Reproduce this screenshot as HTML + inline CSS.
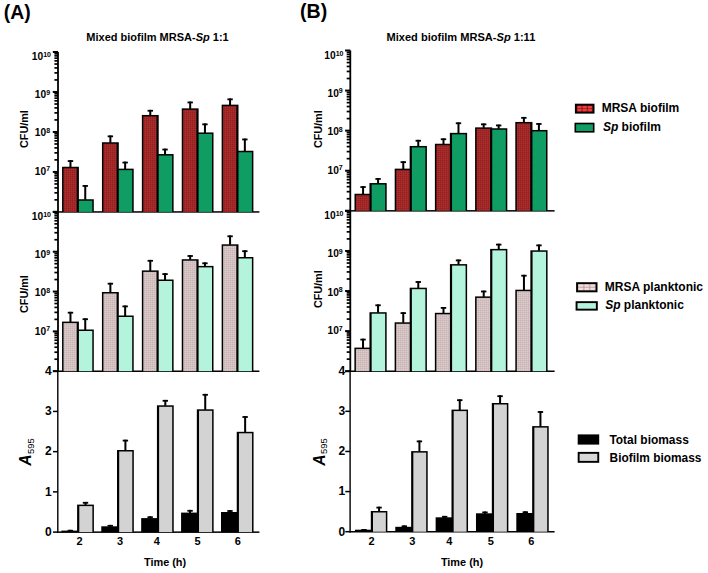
<!DOCTYPE html>
<html><head><meta charset="utf-8"><style>
html,body{margin:0;padding:0;background:#fff;}
svg{display:block;}
text{font-family:"Liberation Sans", sans-serif;fill:#000;}
</style></head><body>
<svg width="708" height="573" viewBox="0 0 708 573">
<rect width="708" height="573" fill="#fff"/>
<defs>
<pattern id="pRed" width="2" height="2" patternUnits="userSpaceOnUse"><rect width="2" height="2" fill="#b42c2c"/><rect width="2" height="0.5" fill="#862020"/><rect width="0.5" height="2" fill="#862020"/></pattern>
<pattern id="pPink" width="2" height="2" patternUnits="userSpaceOnUse"><rect width="2" height="2" fill="#dccdcd"/><rect width="2" height="0.5" fill="#c6afaf"/><rect width="0.5" height="2" fill="#c6afaf"/></pattern>
</defs>
<rect x="57.10" y="52.00" width="1.8" height="319.90" fill="#000"/>
<rect x="57.10" y="371.20" width="1.4" height="161.60" fill="#000"/>
<rect x="57.10" y="211.20" width="202.30" height="1.5" fill="#000"/>
<rect x="57.10" y="370.50" width="202.30" height="1.5" fill="#000"/>
<rect x="57.10" y="531.40" width="202.30" height="1.5" fill="#000"/>
<rect x="52.80" y="210.90" width="5.2" height="2" fill="#000"/>
<rect x="54.40" y="199.02" width="3.6" height="1.7" fill="#000"/>
<rect x="54.40" y="191.98" width="3.6" height="1.7" fill="#000"/>
<rect x="54.40" y="186.98" width="3.6" height="1.7" fill="#000"/>
<rect x="54.40" y="183.11" width="3.6" height="1.7" fill="#000"/>
<rect x="54.40" y="179.94" width="3.6" height="1.7" fill="#000"/>
<rect x="54.40" y="177.27" width="3.6" height="1.7" fill="#000"/>
<rect x="54.40" y="174.95" width="3.6" height="1.7" fill="#000"/>
<rect x="54.40" y="172.90" width="3.6" height="1.7" fill="#000"/>
<rect x="52.80" y="170.93" width="5.2" height="2" fill="#000"/>
<rect x="54.40" y="159.04" width="3.6" height="1.7" fill="#000"/>
<rect x="54.40" y="152.00" width="3.6" height="1.7" fill="#000"/>
<rect x="54.40" y="147.01" width="3.6" height="1.7" fill="#000"/>
<rect x="54.40" y="143.13" width="3.6" height="1.7" fill="#000"/>
<rect x="54.40" y="139.97" width="3.6" height="1.7" fill="#000"/>
<rect x="54.40" y="137.29" width="3.6" height="1.7" fill="#000"/>
<rect x="54.40" y="134.97" width="3.6" height="1.7" fill="#000"/>
<rect x="54.40" y="132.93" width="3.6" height="1.7" fill="#000"/>
<rect x="52.80" y="130.95" width="5.2" height="2" fill="#000"/>
<rect x="54.40" y="119.07" width="3.6" height="1.7" fill="#000"/>
<rect x="54.40" y="112.03" width="3.6" height="1.7" fill="#000"/>
<rect x="54.40" y="107.03" width="3.6" height="1.7" fill="#000"/>
<rect x="54.40" y="103.16" width="3.6" height="1.7" fill="#000"/>
<rect x="54.40" y="99.99" width="3.6" height="1.7" fill="#000"/>
<rect x="54.40" y="97.32" width="3.6" height="1.7" fill="#000"/>
<rect x="54.40" y="95.00" width="3.6" height="1.7" fill="#000"/>
<rect x="54.40" y="92.95" width="3.6" height="1.7" fill="#000"/>
<rect x="52.80" y="90.97" width="5.2" height="2" fill="#000"/>
<rect x="54.40" y="79.09" width="3.6" height="1.7" fill="#000"/>
<rect x="54.40" y="72.05" width="3.6" height="1.7" fill="#000"/>
<rect x="54.40" y="67.06" width="3.6" height="1.7" fill="#000"/>
<rect x="54.40" y="63.18" width="3.6" height="1.7" fill="#000"/>
<rect x="54.40" y="60.02" width="3.6" height="1.7" fill="#000"/>
<rect x="54.40" y="57.34" width="3.6" height="1.7" fill="#000"/>
<rect x="54.40" y="55.02" width="3.6" height="1.7" fill="#000"/>
<rect x="54.40" y="52.98" width="3.6" height="1.7" fill="#000"/>
<rect x="52.80" y="51.00" width="5.2" height="2" fill="#000"/>
<rect x="52.80" y="370.20" width="5.2" height="2" fill="#000"/>
<rect x="54.40" y="358.36" width="3.6" height="1.7" fill="#000"/>
<rect x="54.40" y="351.35" width="3.6" height="1.7" fill="#000"/>
<rect x="54.40" y="346.37" width="3.6" height="1.7" fill="#000"/>
<rect x="54.40" y="342.51" width="3.6" height="1.7" fill="#000"/>
<rect x="54.40" y="339.36" width="3.6" height="1.7" fill="#000"/>
<rect x="54.40" y="336.69" width="3.6" height="1.7" fill="#000"/>
<rect x="54.40" y="334.38" width="3.6" height="1.7" fill="#000"/>
<rect x="54.40" y="332.35" width="3.6" height="1.7" fill="#000"/>
<rect x="52.80" y="330.38" width="5.2" height="2" fill="#000"/>
<rect x="54.40" y="318.54" width="3.6" height="1.7" fill="#000"/>
<rect x="54.40" y="311.52" width="3.6" height="1.7" fill="#000"/>
<rect x="54.40" y="306.55" width="3.6" height="1.7" fill="#000"/>
<rect x="54.40" y="302.69" width="3.6" height="1.7" fill="#000"/>
<rect x="54.40" y="299.54" width="3.6" height="1.7" fill="#000"/>
<rect x="54.40" y="296.87" width="3.6" height="1.7" fill="#000"/>
<rect x="54.40" y="294.56" width="3.6" height="1.7" fill="#000"/>
<rect x="54.40" y="292.52" width="3.6" height="1.7" fill="#000"/>
<rect x="52.80" y="290.55" width="5.2" height="2" fill="#000"/>
<rect x="54.40" y="278.71" width="3.6" height="1.7" fill="#000"/>
<rect x="54.40" y="271.70" width="3.6" height="1.7" fill="#000"/>
<rect x="54.40" y="266.72" width="3.6" height="1.7" fill="#000"/>
<rect x="54.40" y="262.86" width="3.6" height="1.7" fill="#000"/>
<rect x="54.40" y="259.71" width="3.6" height="1.7" fill="#000"/>
<rect x="54.40" y="257.04" width="3.6" height="1.7" fill="#000"/>
<rect x="54.40" y="254.73" width="3.6" height="1.7" fill="#000"/>
<rect x="54.40" y="252.70" width="3.6" height="1.7" fill="#000"/>
<rect x="52.80" y="250.72" width="5.2" height="2" fill="#000"/>
<rect x="54.40" y="238.89" width="3.6" height="1.7" fill="#000"/>
<rect x="54.40" y="231.87" width="3.6" height="1.7" fill="#000"/>
<rect x="54.40" y="226.90" width="3.6" height="1.7" fill="#000"/>
<rect x="54.40" y="223.04" width="3.6" height="1.7" fill="#000"/>
<rect x="54.40" y="219.89" width="3.6" height="1.7" fill="#000"/>
<rect x="54.40" y="217.22" width="3.6" height="1.7" fill="#000"/>
<rect x="54.40" y="214.91" width="3.6" height="1.7" fill="#000"/>
<rect x="54.40" y="212.87" width="3.6" height="1.7" fill="#000"/>
<rect x="52.80" y="210.90" width="5.2" height="2" fill="#000"/>
<rect x="53.00" y="531.35" width="5" height="1.5" fill="#000"/>
<rect x="53.00" y="491.12" width="5" height="1.5" fill="#000"/>
<rect x="53.00" y="450.90" width="5" height="1.5" fill="#000"/>
<rect x="53.00" y="410.68" width="5" height="1.5" fill="#000"/>
<rect x="53.00" y="370.45" width="5" height="1.5" fill="#000"/>
<text x="31.80" y="60.30" font-size="10.2" font-weight="bold">10<tspan font-size="7" dy="-3.5">10</tspan></text>
<text x="34.80" y="98.07" font-size="10.2" font-weight="bold">10<tspan font-size="7" dy="-3.5">9</tspan></text>
<text x="34.80" y="136.34" font-size="10.2" font-weight="bold">10<tspan font-size="7" dy="-3.5">8</tspan></text>
<text x="34.80" y="174.61" font-size="10.2" font-weight="bold">10<tspan font-size="7" dy="-3.5">7</tspan></text>
<text x="31.80" y="220.00" font-size="10.2" font-weight="bold">10<tspan font-size="7" dy="-3.5">10</tspan></text>
<text x="34.80" y="258.20" font-size="10.2" font-weight="bold">10<tspan font-size="7" dy="-3.5">9</tspan></text>
<text x="34.80" y="296.40" font-size="10.2" font-weight="bold">10<tspan font-size="7" dy="-3.5">8</tspan></text>
<text x="34.80" y="334.60" font-size="10.2" font-weight="bold">10<tspan font-size="7" dy="-3.5">7</tspan></text>
<text x="45.00" y="535.90" font-size="12" font-weight="bold">0</text>
<text x="45.00" y="495.68" font-size="12" font-weight="bold">1</text>
<text x="45.00" y="455.45" font-size="12" font-weight="bold">2</text>
<text x="45.00" y="415.23" font-size="12" font-weight="bold">3</text>
<text x="45.00" y="375.00" font-size="12" font-weight="bold">4</text>
<text transform="translate(28.00,148.00) rotate(-90)" font-size="10.8" font-weight="bold">CFU/ml</text>
<text transform="translate(28.00,313.00) rotate(-90)" font-size="10.8" font-weight="bold">CFU/ml</text>
<text transform="translate(31.40,465.80) rotate(-90)" font-size="15.6" font-weight="bold" font-style="italic">A</text>
<text transform="translate(33.80,453.90) rotate(-90)" font-size="9.2" font-weight="normal" textLength="15.8" lengthAdjust="spacingAndGlyphs">595</text>
<rect x="62.05" y="166.75" width="16.85" height="45.15" fill="#000"/>
<rect x="76.70" y="199.25" width="17.10" height="12.65" fill="#000"/>
<rect x="63.55" y="168.25" width="13.15" height="43.65" fill="url(#pRed)"/>
<rect x="78.90" y="200.75" width="13.40" height="11.15" fill="#0f9d63"/>
<rect x="69.47" y="160.15" width="2" height="7.10" fill="#000"/>
<rect x="67.77" y="160.15" width="5.4" height="1.8" fill="#000"/>
<rect x="84.25" y="185.05" width="2" height="14.70" fill="#000"/>
<rect x="82.55" y="185.05" width="5.4" height="1.8" fill="#000"/>
<rect x="62.05" y="321.60" width="16.85" height="49.60" fill="#000"/>
<rect x="76.70" y="329.50" width="17.10" height="41.70" fill="#000"/>
<rect x="63.55" y="323.10" width="13.15" height="48.10" fill="url(#pPink)"/>
<rect x="78.90" y="331.00" width="13.40" height="40.20" fill="#b4f4dc"/>
<rect x="69.47" y="311.80" width="2" height="10.30" fill="#000"/>
<rect x="67.77" y="311.80" width="5.4" height="1.8" fill="#000"/>
<rect x="84.25" y="318.30" width="2" height="11.70" fill="#000"/>
<rect x="82.55" y="318.30" width="5.4" height="1.8" fill="#000"/>
<rect x="61.35" y="530.60" width="17.95" height="1.50" fill="#000"/>
<rect x="77.10" y="504.60" width="16.80" height="27.50" fill="#000"/>
<rect x="79.30" y="506.10" width="13.10" height="26.00" fill="#d3d3d3"/>
<rect x="69.33" y="529.80" width="2" height="1.30" fill="#000"/>
<rect x="67.62" y="529.80" width="5.4" height="1.8" fill="#000"/>
<rect x="84.50" y="501.90" width="2" height="3.20" fill="#000"/>
<rect x="82.80" y="501.90" width="5.4" height="1.8" fill="#000"/>
<text x="79.50" y="545.4" font-size="11" font-weight="bold" text-anchor="middle">2</text>
<rect x="101.95" y="142.25" width="16.85" height="69.65" fill="#000"/>
<rect x="116.60" y="168.65" width="17.10" height="43.25" fill="#000"/>
<rect x="103.45" y="143.75" width="13.15" height="68.15" fill="url(#pRed)"/>
<rect x="118.80" y="170.15" width="13.40" height="41.75" fill="#0f9d63"/>
<rect x="109.37" y="135.45" width="2" height="7.30" fill="#000"/>
<rect x="107.67" y="135.45" width="5.4" height="1.8" fill="#000"/>
<rect x="124.15" y="161.65" width="2" height="7.50" fill="#000"/>
<rect x="122.45" y="161.65" width="5.4" height="1.8" fill="#000"/>
<rect x="101.95" y="292.00" width="16.85" height="79.20" fill="#000"/>
<rect x="116.60" y="315.50" width="17.10" height="55.70" fill="#000"/>
<rect x="103.45" y="293.50" width="13.15" height="77.70" fill="url(#pPink)"/>
<rect x="118.80" y="317.00" width="13.40" height="54.20" fill="#b4f4dc"/>
<rect x="109.37" y="282.80" width="2" height="9.70" fill="#000"/>
<rect x="107.67" y="282.80" width="5.4" height="1.8" fill="#000"/>
<rect x="124.15" y="305.50" width="2" height="10.50" fill="#000"/>
<rect x="122.45" y="305.50" width="5.4" height="1.8" fill="#000"/>
<rect x="101.26" y="526.30" width="17.95" height="5.80" fill="#000"/>
<rect x="117.01" y="450.00" width="16.80" height="82.10" fill="#000"/>
<rect x="102.76" y="527.80" width="14.25" height="4.30" fill="#000"/>
<rect x="119.21" y="451.50" width="13.10" height="80.60" fill="#d3d3d3"/>
<rect x="109.23" y="524.90" width="2" height="1.90" fill="#000"/>
<rect x="107.53" y="524.90" width="5.4" height="1.8" fill="#000"/>
<rect x="124.41" y="439.70" width="2" height="10.80" fill="#000"/>
<rect x="122.71" y="439.70" width="5.4" height="1.8" fill="#000"/>
<text x="120.10" y="545.4" font-size="11" font-weight="bold" text-anchor="middle">3</text>
<rect x="141.85" y="114.95" width="16.85" height="96.95" fill="#000"/>
<rect x="156.50" y="154.05" width="17.10" height="57.85" fill="#000"/>
<rect x="143.35" y="116.45" width="13.15" height="95.45" fill="url(#pRed)"/>
<rect x="158.70" y="155.55" width="13.40" height="56.35" fill="#0f9d63"/>
<rect x="149.28" y="109.85" width="2" height="5.60" fill="#000"/>
<rect x="147.58" y="109.85" width="5.4" height="1.8" fill="#000"/>
<rect x="164.05" y="148.65" width="2" height="5.90" fill="#000"/>
<rect x="162.35" y="148.65" width="5.4" height="1.8" fill="#000"/>
<rect x="141.85" y="270.40" width="16.85" height="100.80" fill="#000"/>
<rect x="156.50" y="279.50" width="17.10" height="91.70" fill="#000"/>
<rect x="143.35" y="271.90" width="13.15" height="99.30" fill="url(#pPink)"/>
<rect x="158.70" y="281.00" width="13.40" height="90.20" fill="#b4f4dc"/>
<rect x="149.28" y="259.90" width="2" height="11.00" fill="#000"/>
<rect x="147.58" y="259.90" width="5.4" height="1.8" fill="#000"/>
<rect x="164.05" y="273.20" width="2" height="6.80" fill="#000"/>
<rect x="162.35" y="273.20" width="5.4" height="1.8" fill="#000"/>
<rect x="141.17" y="518.10" width="17.95" height="14.00" fill="#000"/>
<rect x="156.92" y="405.30" width="16.80" height="126.80" fill="#000"/>
<rect x="142.67" y="519.60" width="14.25" height="12.50" fill="#000"/>
<rect x="159.12" y="406.80" width="13.10" height="125.30" fill="#d3d3d3"/>
<rect x="149.14" y="516.30" width="2" height="2.30" fill="#000"/>
<rect x="147.44" y="516.30" width="5.4" height="1.8" fill="#000"/>
<rect x="164.32" y="399.90" width="2" height="5.90" fill="#000"/>
<rect x="162.62" y="399.90" width="5.4" height="1.8" fill="#000"/>
<text x="156.90" y="545.4" font-size="11" font-weight="bold" text-anchor="middle">4</text>
<rect x="181.75" y="108.35" width="16.85" height="103.55" fill="#000"/>
<rect x="196.40" y="132.45" width="17.10" height="79.45" fill="#000"/>
<rect x="183.25" y="109.85" width="13.15" height="102.05" fill="url(#pRed)"/>
<rect x="198.60" y="133.95" width="13.40" height="77.95" fill="#0f9d63"/>
<rect x="189.18" y="101.55" width="2" height="7.30" fill="#000"/>
<rect x="187.48" y="101.55" width="5.4" height="1.8" fill="#000"/>
<rect x="203.95" y="123.45" width="2" height="9.50" fill="#000"/>
<rect x="202.25" y="123.45" width="5.4" height="1.8" fill="#000"/>
<rect x="181.75" y="259.20" width="16.85" height="112.00" fill="#000"/>
<rect x="196.40" y="265.90" width="17.10" height="105.30" fill="#000"/>
<rect x="183.25" y="260.70" width="13.15" height="110.50" fill="url(#pPink)"/>
<rect x="198.60" y="267.40" width="13.40" height="103.80" fill="#b4f4dc"/>
<rect x="189.18" y="255.10" width="2" height="4.60" fill="#000"/>
<rect x="187.48" y="255.10" width="5.4" height="1.8" fill="#000"/>
<rect x="203.95" y="262.40" width="2" height="4.00" fill="#000"/>
<rect x="202.25" y="262.40" width="5.4" height="1.8" fill="#000"/>
<rect x="181.08" y="512.60" width="17.95" height="19.50" fill="#000"/>
<rect x="196.83" y="409.30" width="16.80" height="122.80" fill="#000"/>
<rect x="182.58" y="514.10" width="14.25" height="18.00" fill="#000"/>
<rect x="199.03" y="410.80" width="13.10" height="121.30" fill="#d3d3d3"/>
<rect x="189.06" y="509.90" width="2" height="3.20" fill="#000"/>
<rect x="187.36" y="509.90" width="5.4" height="1.8" fill="#000"/>
<rect x="204.23" y="393.90" width="2" height="15.90" fill="#000"/>
<rect x="202.53" y="393.90" width="5.4" height="1.8" fill="#000"/>
<text x="197.50" y="545.4" font-size="11" font-weight="bold" text-anchor="middle">5</text>
<rect x="221.65" y="104.65" width="16.85" height="107.25" fill="#000"/>
<rect x="236.30" y="150.75" width="17.10" height="61.15" fill="#000"/>
<rect x="223.15" y="106.15" width="13.15" height="105.75" fill="url(#pRed)"/>
<rect x="238.50" y="152.25" width="13.40" height="59.65" fill="#0f9d63"/>
<rect x="229.07" y="98.45" width="2" height="6.70" fill="#000"/>
<rect x="227.38" y="98.45" width="5.4" height="1.8" fill="#000"/>
<rect x="243.85" y="138.55" width="2" height="12.70" fill="#000"/>
<rect x="242.15" y="138.55" width="5.4" height="1.8" fill="#000"/>
<rect x="221.65" y="244.30" width="16.85" height="126.90" fill="#000"/>
<rect x="236.30" y="257.00" width="17.10" height="114.20" fill="#000"/>
<rect x="223.15" y="245.80" width="13.15" height="125.40" fill="url(#pPink)"/>
<rect x="238.50" y="258.50" width="13.40" height="112.70" fill="#b4f4dc"/>
<rect x="229.07" y="235.40" width="2" height="9.40" fill="#000"/>
<rect x="227.38" y="235.40" width="5.4" height="1.8" fill="#000"/>
<rect x="243.85" y="250.30" width="2" height="7.20" fill="#000"/>
<rect x="242.15" y="250.30" width="5.4" height="1.8" fill="#000"/>
<rect x="220.99" y="512.00" width="17.95" height="20.10" fill="#000"/>
<rect x="236.74" y="431.80" width="16.80" height="100.30" fill="#000"/>
<rect x="222.49" y="513.50" width="14.25" height="18.60" fill="#000"/>
<rect x="238.94" y="433.30" width="13.10" height="98.80" fill="#d3d3d3"/>
<rect x="228.96" y="510.10" width="2" height="2.40" fill="#000"/>
<rect x="227.26" y="510.10" width="5.4" height="1.8" fill="#000"/>
<rect x="244.14" y="416.10" width="2" height="16.20" fill="#000"/>
<rect x="242.44" y="416.10" width="5.4" height="1.8" fill="#000"/>
<text x="237.90" y="545.4" font-size="11" font-weight="bold" text-anchor="middle">6</text>
<text x="144.00" y="565.9" font-size="10.9" font-weight="bold">Time (h)</text>
<text x="86.30" y="40.5" font-size="11.6" font-weight="bold" textLength="142.40" lengthAdjust="spacingAndGlyphs">Mixed biofilm MRSA-<tspan font-style="italic">Sp</tspan> 1:1</text>
<rect x="349.40" y="50.50" width="1.8" height="321.40" fill="#000"/>
<rect x="349.40" y="371.20" width="1.4" height="161.20" fill="#000"/>
<rect x="349.40" y="210.10" width="205.20" height="1.5" fill="#000"/>
<rect x="349.40" y="370.50" width="205.20" height="1.5" fill="#000"/>
<rect x="349.40" y="531.00" width="205.20" height="1.5" fill="#000"/>
<rect x="345.10" y="209.80" width="5.2" height="2" fill="#000"/>
<rect x="346.70" y="197.89" width="3.6" height="1.7" fill="#000"/>
<rect x="346.70" y="190.83" width="3.6" height="1.7" fill="#000"/>
<rect x="346.70" y="185.82" width="3.6" height="1.7" fill="#000"/>
<rect x="346.70" y="181.94" width="3.6" height="1.7" fill="#000"/>
<rect x="346.70" y="178.77" width="3.6" height="1.7" fill="#000"/>
<rect x="346.70" y="176.08" width="3.6" height="1.7" fill="#000"/>
<rect x="346.70" y="173.76" width="3.6" height="1.7" fill="#000"/>
<rect x="346.70" y="171.71" width="3.6" height="1.7" fill="#000"/>
<rect x="345.10" y="169.73" width="5.2" height="2" fill="#000"/>
<rect x="346.70" y="157.81" width="3.6" height="1.7" fill="#000"/>
<rect x="346.70" y="150.75" width="3.6" height="1.7" fill="#000"/>
<rect x="346.70" y="145.75" width="3.6" height="1.7" fill="#000"/>
<rect x="346.70" y="141.86" width="3.6" height="1.7" fill="#000"/>
<rect x="346.70" y="138.69" width="3.6" height="1.7" fill="#000"/>
<rect x="346.70" y="136.01" width="3.6" height="1.7" fill="#000"/>
<rect x="346.70" y="133.68" width="3.6" height="1.7" fill="#000"/>
<rect x="346.70" y="131.63" width="3.6" height="1.7" fill="#000"/>
<rect x="345.10" y="129.65" width="5.2" height="2" fill="#000"/>
<rect x="346.70" y="117.74" width="3.6" height="1.7" fill="#000"/>
<rect x="346.70" y="110.68" width="3.6" height="1.7" fill="#000"/>
<rect x="346.70" y="105.67" width="3.6" height="1.7" fill="#000"/>
<rect x="346.70" y="101.79" width="3.6" height="1.7" fill="#000"/>
<rect x="346.70" y="98.62" width="3.6" height="1.7" fill="#000"/>
<rect x="346.70" y="95.93" width="3.6" height="1.7" fill="#000"/>
<rect x="346.70" y="93.61" width="3.6" height="1.7" fill="#000"/>
<rect x="346.70" y="91.56" width="3.6" height="1.7" fill="#000"/>
<rect x="345.10" y="89.58" width="5.2" height="2" fill="#000"/>
<rect x="346.70" y="77.66" width="3.6" height="1.7" fill="#000"/>
<rect x="346.70" y="70.60" width="3.6" height="1.7" fill="#000"/>
<rect x="346.70" y="65.60" width="3.6" height="1.7" fill="#000"/>
<rect x="346.70" y="61.71" width="3.6" height="1.7" fill="#000"/>
<rect x="346.70" y="58.54" width="3.6" height="1.7" fill="#000"/>
<rect x="346.70" y="55.86" width="3.6" height="1.7" fill="#000"/>
<rect x="346.70" y="53.53" width="3.6" height="1.7" fill="#000"/>
<rect x="346.70" y="51.48" width="3.6" height="1.7" fill="#000"/>
<rect x="345.10" y="49.50" width="5.2" height="2" fill="#000"/>
<rect x="345.10" y="370.20" width="5.2" height="2" fill="#000"/>
<rect x="346.70" y="358.29" width="3.6" height="1.7" fill="#000"/>
<rect x="346.70" y="351.23" width="3.6" height="1.7" fill="#000"/>
<rect x="346.70" y="346.22" width="3.6" height="1.7" fill="#000"/>
<rect x="346.70" y="342.34" width="3.6" height="1.7" fill="#000"/>
<rect x="346.70" y="339.17" width="3.6" height="1.7" fill="#000"/>
<rect x="346.70" y="336.48" width="3.6" height="1.7" fill="#000"/>
<rect x="346.70" y="334.16" width="3.6" height="1.7" fill="#000"/>
<rect x="346.70" y="332.11" width="3.6" height="1.7" fill="#000"/>
<rect x="345.10" y="330.12" width="5.2" height="2" fill="#000"/>
<rect x="346.70" y="318.21" width="3.6" height="1.7" fill="#000"/>
<rect x="346.70" y="311.15" width="3.6" height="1.7" fill="#000"/>
<rect x="346.70" y="306.15" width="3.6" height="1.7" fill="#000"/>
<rect x="346.70" y="302.26" width="3.6" height="1.7" fill="#000"/>
<rect x="346.70" y="299.09" width="3.6" height="1.7" fill="#000"/>
<rect x="346.70" y="296.41" width="3.6" height="1.7" fill="#000"/>
<rect x="346.70" y="294.08" width="3.6" height="1.7" fill="#000"/>
<rect x="346.70" y="292.03" width="3.6" height="1.7" fill="#000"/>
<rect x="345.10" y="290.05" width="5.2" height="2" fill="#000"/>
<rect x="346.70" y="278.14" width="3.6" height="1.7" fill="#000"/>
<rect x="346.70" y="271.08" width="3.6" height="1.7" fill="#000"/>
<rect x="346.70" y="266.07" width="3.6" height="1.7" fill="#000"/>
<rect x="346.70" y="262.19" width="3.6" height="1.7" fill="#000"/>
<rect x="346.70" y="259.02" width="3.6" height="1.7" fill="#000"/>
<rect x="346.70" y="256.33" width="3.6" height="1.7" fill="#000"/>
<rect x="346.70" y="254.01" width="3.6" height="1.7" fill="#000"/>
<rect x="346.70" y="251.96" width="3.6" height="1.7" fill="#000"/>
<rect x="345.10" y="249.97" width="5.2" height="2" fill="#000"/>
<rect x="346.70" y="238.06" width="3.6" height="1.7" fill="#000"/>
<rect x="346.70" y="231.00" width="3.6" height="1.7" fill="#000"/>
<rect x="346.70" y="226.00" width="3.6" height="1.7" fill="#000"/>
<rect x="346.70" y="222.11" width="3.6" height="1.7" fill="#000"/>
<rect x="346.70" y="218.94" width="3.6" height="1.7" fill="#000"/>
<rect x="346.70" y="216.26" width="3.6" height="1.7" fill="#000"/>
<rect x="346.70" y="213.93" width="3.6" height="1.7" fill="#000"/>
<rect x="346.70" y="211.88" width="3.6" height="1.7" fill="#000"/>
<rect x="345.10" y="209.90" width="5.2" height="2" fill="#000"/>
<rect x="345.30" y="530.95" width="5" height="1.5" fill="#000"/>
<rect x="345.30" y="490.83" width="5" height="1.5" fill="#000"/>
<rect x="345.30" y="450.70" width="5" height="1.5" fill="#000"/>
<rect x="345.30" y="410.57" width="5" height="1.5" fill="#000"/>
<rect x="345.30" y="370.45" width="5" height="1.5" fill="#000"/>
<text x="324.30" y="59.10" font-size="10.2" font-weight="bold">10<tspan font-size="7" dy="-3.5">10</tspan></text>
<text x="327.50" y="96.93" font-size="10.2" font-weight="bold">10<tspan font-size="7" dy="-3.5">9</tspan></text>
<text x="327.50" y="135.26" font-size="10.2" font-weight="bold">10<tspan font-size="7" dy="-3.5">8</tspan></text>
<text x="327.50" y="173.59" font-size="10.2" font-weight="bold">10<tspan font-size="7" dy="-3.5">7</tspan></text>
<text x="324.30" y="219.20" font-size="10.2" font-weight="bold">10<tspan font-size="7" dy="-3.5">10</tspan></text>
<text x="327.50" y="257.47" font-size="10.2" font-weight="bold">10<tspan font-size="7" dy="-3.5">9</tspan></text>
<text x="327.50" y="295.74" font-size="10.2" font-weight="bold">10<tspan font-size="7" dy="-3.5">8</tspan></text>
<text x="327.50" y="334.01" font-size="10.2" font-weight="bold">10<tspan font-size="7" dy="-3.5">7</tspan></text>
<text x="338.50" y="535.50" font-size="12" font-weight="bold">0</text>
<text x="338.50" y="495.38" font-size="12" font-weight="bold">1</text>
<text x="338.50" y="455.25" font-size="12" font-weight="bold">2</text>
<text x="338.50" y="415.12" font-size="12" font-weight="bold">3</text>
<text x="338.50" y="375.00" font-size="12" font-weight="bold">4</text>
<text transform="translate(322.20,148.10) rotate(-90)" font-size="10.8" font-weight="bold">CFU/ml</text>
<text transform="translate(322.20,308.10) rotate(-90)" font-size="10.8" font-weight="bold">CFU/ml</text>
<text transform="translate(324.50,465.80) rotate(-90)" font-size="15.6" font-weight="bold" font-style="italic">A</text>
<text transform="translate(326.90,453.90) rotate(-90)" font-size="9.2" font-weight="normal" textLength="15.8" lengthAdjust="spacingAndGlyphs">595</text>
<rect x="354.50" y="193.75" width="17.15" height="17.05" fill="#000"/>
<rect x="369.45" y="183.05" width="17.25" height="27.75" fill="#000"/>
<rect x="356.00" y="195.25" width="13.45" height="15.55" fill="url(#pRed)"/>
<rect x="371.65" y="184.55" width="13.55" height="26.25" fill="#0f9d63"/>
<rect x="362.07" y="186.15" width="2" height="8.10" fill="#000"/>
<rect x="360.38" y="186.15" width="5.4" height="1.8" fill="#000"/>
<rect x="377.07" y="178.05" width="2" height="5.50" fill="#000"/>
<rect x="375.38" y="178.05" width="5.4" height="1.8" fill="#000"/>
<rect x="354.40" y="347.60" width="17.25" height="23.60" fill="#000"/>
<rect x="369.45" y="312.20" width="17.20" height="59.00" fill="#000"/>
<rect x="355.90" y="349.10" width="13.55" height="22.10" fill="url(#pPink)"/>
<rect x="371.65" y="313.70" width="13.50" height="57.50" fill="#b4f4dc"/>
<rect x="362.03" y="338.70" width="2" height="9.40" fill="#000"/>
<rect x="360.33" y="338.70" width="5.4" height="1.8" fill="#000"/>
<rect x="377.05" y="304.40" width="2" height="8.30" fill="#000"/>
<rect x="375.35" y="304.40" width="5.4" height="1.8" fill="#000"/>
<rect x="354.95" y="529.70" width="18.05" height="2.00" fill="#000"/>
<rect x="370.80" y="511.00" width="16.55" height="20.70" fill="#000"/>
<rect x="356.45" y="531.20" width="14.35" height="0.50" fill="#000"/>
<rect x="373.00" y="512.50" width="12.85" height="19.20" fill="#d3d3d3"/>
<rect x="362.97" y="529.00" width="2" height="1.20" fill="#000"/>
<rect x="361.27" y="529.00" width="5.4" height="1.8" fill="#000"/>
<rect x="378.07" y="506.70" width="2" height="4.80" fill="#000"/>
<rect x="376.37" y="506.70" width="5.4" height="1.8" fill="#000"/>
<text x="371.50" y="545.4" font-size="11" font-weight="bold" text-anchor="middle">2</text>
<rect x="394.70" y="168.65" width="17.15" height="42.15" fill="#000"/>
<rect x="409.65" y="145.95" width="17.25" height="64.85" fill="#000"/>
<rect x="396.20" y="170.15" width="13.45" height="40.65" fill="url(#pRed)"/>
<rect x="411.85" y="147.45" width="13.55" height="63.35" fill="#0f9d63"/>
<rect x="402.28" y="161.25" width="2" height="7.90" fill="#000"/>
<rect x="400.58" y="161.25" width="5.4" height="1.8" fill="#000"/>
<rect x="417.27" y="139.85" width="2" height="6.60" fill="#000"/>
<rect x="415.57" y="139.85" width="5.4" height="1.8" fill="#000"/>
<rect x="394.63" y="322.30" width="17.25" height="48.90" fill="#000"/>
<rect x="409.68" y="287.70" width="17.20" height="83.50" fill="#000"/>
<rect x="396.13" y="323.80" width="13.55" height="47.40" fill="url(#pPink)"/>
<rect x="411.88" y="289.20" width="13.50" height="82.00" fill="#b4f4dc"/>
<rect x="402.26" y="312.20" width="2" height="10.60" fill="#000"/>
<rect x="400.56" y="312.20" width="5.4" height="1.8" fill="#000"/>
<rect x="417.28" y="281.10" width="2" height="7.10" fill="#000"/>
<rect x="415.58" y="281.10" width="5.4" height="1.8" fill="#000"/>
<rect x="395.29" y="526.80" width="18.05" height="4.90" fill="#000"/>
<rect x="411.14" y="451.10" width="16.55" height="80.60" fill="#000"/>
<rect x="396.79" y="528.30" width="14.35" height="3.40" fill="#000"/>
<rect x="413.34" y="452.60" width="12.85" height="79.10" fill="#d3d3d3"/>
<rect x="403.31" y="525.40" width="2" height="1.90" fill="#000"/>
<rect x="401.62" y="525.40" width="5.4" height="1.8" fill="#000"/>
<rect x="418.41" y="440.50" width="2" height="11.10" fill="#000"/>
<rect x="416.71" y="440.50" width="5.4" height="1.8" fill="#000"/>
<text x="412.30" y="545.4" font-size="11" font-weight="bold" text-anchor="middle">3</text>
<rect x="434.90" y="143.75" width="17.15" height="67.05" fill="#000"/>
<rect x="449.85" y="132.85" width="17.25" height="77.95" fill="#000"/>
<rect x="436.40" y="145.25" width="13.45" height="65.55" fill="url(#pRed)"/>
<rect x="452.05" y="134.35" width="13.55" height="76.45" fill="#0f9d63"/>
<rect x="442.48" y="138.35" width="2" height="5.90" fill="#000"/>
<rect x="440.78" y="138.35" width="5.4" height="1.8" fill="#000"/>
<rect x="457.48" y="122.35" width="2" height="11.00" fill="#000"/>
<rect x="455.78" y="122.35" width="5.4" height="1.8" fill="#000"/>
<rect x="434.86" y="312.80" width="17.25" height="58.40" fill="#000"/>
<rect x="449.91" y="264.10" width="17.20" height="107.10" fill="#000"/>
<rect x="436.36" y="314.30" width="13.55" height="56.90" fill="url(#pPink)"/>
<rect x="452.11" y="265.60" width="13.50" height="105.60" fill="#b4f4dc"/>
<rect x="442.49" y="307.00" width="2" height="6.30" fill="#000"/>
<rect x="440.79" y="307.00" width="5.4" height="1.8" fill="#000"/>
<rect x="457.51" y="259.50" width="2" height="5.10" fill="#000"/>
<rect x="455.81" y="259.50" width="5.4" height="1.8" fill="#000"/>
<rect x="435.63" y="517.30" width="18.05" height="14.40" fill="#000"/>
<rect x="451.48" y="409.60" width="16.55" height="122.10" fill="#000"/>
<rect x="437.13" y="518.80" width="14.35" height="12.90" fill="#000"/>
<rect x="453.68" y="411.10" width="12.85" height="120.60" fill="#d3d3d3"/>
<rect x="443.66" y="515.90" width="2" height="1.90" fill="#000"/>
<rect x="441.96" y="515.90" width="5.4" height="1.8" fill="#000"/>
<rect x="458.75" y="399.30" width="2" height="10.80" fill="#000"/>
<rect x="457.06" y="399.30" width="5.4" height="1.8" fill="#000"/>
<text x="449.40" y="545.4" font-size="11" font-weight="bold" text-anchor="middle">4</text>
<rect x="475.10" y="127.35" width="17.15" height="83.45" fill="#000"/>
<rect x="490.05" y="128.25" width="17.25" height="82.55" fill="#000"/>
<rect x="476.60" y="128.85" width="13.45" height="81.95" fill="url(#pRed)"/>
<rect x="492.25" y="129.75" width="13.55" height="81.05" fill="#0f9d63"/>
<rect x="482.68" y="123.45" width="2" height="4.40" fill="#000"/>
<rect x="480.98" y="123.45" width="5.4" height="1.8" fill="#000"/>
<rect x="497.68" y="124.55" width="2" height="4.20" fill="#000"/>
<rect x="495.98" y="124.55" width="5.4" height="1.8" fill="#000"/>
<rect x="475.09" y="296.40" width="17.25" height="74.80" fill="#000"/>
<rect x="490.14" y="248.90" width="17.20" height="122.30" fill="#000"/>
<rect x="476.59" y="297.90" width="13.55" height="73.30" fill="url(#pPink)"/>
<rect x="492.34" y="250.40" width="13.50" height="120.80" fill="#b4f4dc"/>
<rect x="482.72" y="290.60" width="2" height="6.30" fill="#000"/>
<rect x="481.02" y="290.60" width="5.4" height="1.8" fill="#000"/>
<rect x="497.74" y="243.70" width="2" height="5.70" fill="#000"/>
<rect x="496.04" y="243.70" width="5.4" height="1.8" fill="#000"/>
<rect x="475.97" y="513.30" width="18.05" height="18.40" fill="#000"/>
<rect x="491.82" y="403.00" width="16.55" height="128.70" fill="#000"/>
<rect x="477.47" y="514.80" width="14.35" height="16.90" fill="#000"/>
<rect x="494.02" y="404.50" width="12.85" height="127.20" fill="#d3d3d3"/>
<rect x="483.99" y="511.50" width="2" height="2.30" fill="#000"/>
<rect x="482.29" y="511.50" width="5.4" height="1.8" fill="#000"/>
<rect x="499.09" y="395.30" width="2" height="8.20" fill="#000"/>
<rect x="497.39" y="395.30" width="5.4" height="1.8" fill="#000"/>
<text x="490.70" y="545.4" font-size="11" font-weight="bold" text-anchor="middle">5</text>
<rect x="515.30" y="121.95" width="17.15" height="88.85" fill="#000"/>
<rect x="530.25" y="129.95" width="17.25" height="80.85" fill="#000"/>
<rect x="516.80" y="123.45" width="13.45" height="87.35" fill="url(#pRed)"/>
<rect x="532.45" y="131.45" width="13.55" height="79.35" fill="#0f9d63"/>
<rect x="522.88" y="116.95" width="2" height="5.50" fill="#000"/>
<rect x="521.17" y="116.95" width="5.4" height="1.8" fill="#000"/>
<rect x="537.88" y="123.05" width="2" height="7.40" fill="#000"/>
<rect x="536.17" y="123.05" width="5.4" height="1.8" fill="#000"/>
<rect x="515.32" y="289.70" width="17.25" height="81.50" fill="#000"/>
<rect x="530.37" y="250.30" width="17.20" height="120.90" fill="#000"/>
<rect x="516.82" y="291.20" width="13.55" height="80.00" fill="url(#pPink)"/>
<rect x="532.57" y="251.80" width="13.50" height="119.40" fill="#b4f4dc"/>
<rect x="522.94" y="274.80" width="2" height="15.40" fill="#000"/>
<rect x="521.24" y="274.80" width="5.4" height="1.8" fill="#000"/>
<rect x="537.97" y="244.50" width="2" height="6.30" fill="#000"/>
<rect x="536.27" y="244.50" width="5.4" height="1.8" fill="#000"/>
<rect x="516.31" y="513.00" width="18.05" height="18.70" fill="#000"/>
<rect x="532.16" y="426.10" width="16.55" height="105.60" fill="#000"/>
<rect x="517.81" y="514.50" width="14.35" height="17.20" fill="#000"/>
<rect x="534.36" y="427.60" width="12.85" height="104.10" fill="#d3d3d3"/>
<rect x="524.33" y="511.30" width="2" height="2.20" fill="#000"/>
<rect x="522.63" y="511.30" width="5.4" height="1.8" fill="#000"/>
<rect x="539.43" y="411.10" width="2" height="15.50" fill="#000"/>
<rect x="537.73" y="411.10" width="5.4" height="1.8" fill="#000"/>
<text x="531.40" y="545.4" font-size="11" font-weight="bold" text-anchor="middle">6</text>
<text x="440.90" y="565.9" font-size="10.9" font-weight="bold">Time (h)</text>
<text x="386.50" y="40.5" font-size="11.6" font-weight="bold" textLength="148.80" lengthAdjust="spacingAndGlyphs">Mixed biofilm MRSA-<tspan font-style="italic">Sp</tspan> 1:11</text>
<text x="3.8" y="18.5" font-size="19.4" font-weight="bold">(A)</text>
<text x="300.1" y="18.3" font-size="19.6" font-weight="bold">(B)</text>
<rect x="574.90" y="103.70" width="19.60" height="9.90" fill="#000"/>
<rect x="576.80" y="105.60" width="15.80" height="6.10" fill="#9a1c1c"/>
<rect x="577.30" y="106.00" width="4.27" height="2.25" rx="0.8" fill="#f03c3c"/>
<rect x="577.30" y="109.05" width="4.27" height="2.25" rx="0.8" fill="#f03c3c"/>
<rect x="582.57" y="106.00" width="4.27" height="2.25" rx="0.8" fill="#f03c3c"/>
<rect x="582.57" y="109.05" width="4.27" height="2.25" rx="0.8" fill="#f03c3c"/>
<rect x="587.83" y="106.00" width="4.27" height="2.25" rx="0.8" fill="#f03c3c"/>
<rect x="587.83" y="109.05" width="4.27" height="2.25" rx="0.8" fill="#f03c3c"/>
<rect x="574.50" y="122.70" width="20.00" height="9.90" fill="#000"/>
<rect x="576.10" y="124.30" width="16.80" height="6.70" fill="#0f9d63"/>
<text x="601.7" y="111.9" font-size="12" font-weight="bold">MRSA biofilm</text>
<text x="602.9" y="130.6" font-size="12" font-weight="bold"><tspan font-style="italic">Sp</tspan> biofilm</text>
<rect x="576.10" y="282.20" width="21.40" height="10.10" fill="#000"/>
<rect x="578.00" y="284.10" width="17.60" height="6.30" fill="#c0a8a8"/>
<rect x="578.50" y="284.50" width="4.87" height="2.35" rx="0.8" fill="#f0dede"/>
<rect x="578.50" y="287.65" width="4.87" height="2.35" rx="0.8" fill="#f0dede"/>
<rect x="584.37" y="284.50" width="4.87" height="2.35" rx="0.8" fill="#f0dede"/>
<rect x="584.37" y="287.65" width="4.87" height="2.35" rx="0.8" fill="#f0dede"/>
<rect x="590.23" y="284.50" width="4.87" height="2.35" rx="0.8" fill="#f0dede"/>
<rect x="590.23" y="287.65" width="4.87" height="2.35" rx="0.8" fill="#f0dede"/>
<rect x="575.60" y="301.20" width="22.20" height="9.40" fill="#000"/>
<rect x="577.50" y="303.10" width="18.40" height="5.60" fill="#b4f4dc"/>
<text x="604.8" y="290.7" font-size="12" font-weight="bold">MRSA planktonic</text>
<text x="605.2" y="309.2" font-size="12" font-weight="bold"><tspan font-style="italic">Sp</tspan> planktonic</text>
<rect x="577.70" y="434.40" width="21.50" height="10.20" fill="#000"/>
<rect x="579.60" y="436.30" width="17.70" height="6.40" fill="#000"/>
<rect x="577.70" y="451.90" width="21.50" height="10.90" fill="#000"/>
<rect x="579.60" y="453.80" width="17.70" height="7.10" fill="#d8d8d8"/>
<text x="609.4" y="443.5" font-size="12" font-weight="bold" textLength="79.4" lengthAdjust="spacingAndGlyphs">Total biomass</text>
<text x="609.6" y="461.7" font-size="12" font-weight="bold" textLength="91.8" lengthAdjust="spacingAndGlyphs">Biofilm biomass</text>
</svg></body></html>
